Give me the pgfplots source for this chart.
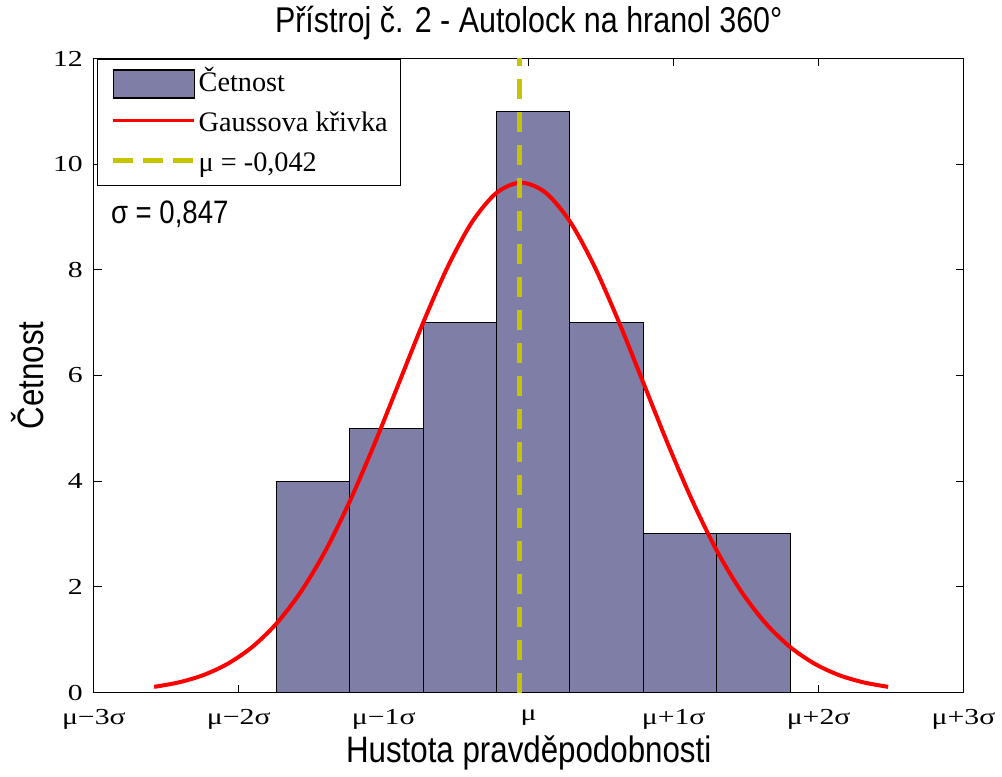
\documentclass[border=0pt]{standalone}
\usepackage{pgfplots}
\pgfplotsset{compat=1.18}
\usepackage{fontspec}
\setmainfont{Liberation Serif}
\newfontfamily\labfont[FakeStretch=0.85]{Liberation Sans}
\newfontfamily\tickfont[FakeStretch=1.3]{Liberation Serif}
\definecolor{barcol}{RGB}{126,126,166}
\definecolor{mucol}{RGB}{196,196,0}
\definecolor{gaussred}{RGB}{255,0,0}

\begin{document}
\begin{tikzpicture}
\begin{axis}[
  name=ax,
  scale only axis,
  width=435.5bp, height=317.5bp,
  xmin=-3, xmax=3, ymin=0, ymax=12,
  axis line style={line width=0.5bp},
  every tick/.style={black, line width=0.5bp},
  major tick length=4bp,
  xtick={-3,-2,-1,0,1,2,3},
  xticklabels={μ−3σ,μ−2σ,μ−1σ,μ,μ+1σ,μ+2σ,μ+3σ},
  ytick={0,2,4,6,8,10,12},
  /pgf/number format/assume math mode=true,
  tick label style={font=\tickfont\fontsize{11.5}{13}\selectfont},
  xticklabel style={yshift=-5bp},
  yticklabel style={xshift=-2bp},
  every axis title shift=0pt,
  title={Přístroj č. 2 - Autolock na hranol 360°},
  title style={font=\labfont\fontsize{18}{20}\selectfont,
    at={(axis description cs:0.5,1.0551)}, anchor=center},
  xlabel={Hustota pravděpodobnosti},
  xlabel style={font=\labfont\fontsize{18.5}{21}\selectfont,
    at={(axis description cs:0.5,-0.0945)}, anchor=center},
  ylabel={Četnost},
  ylabel style={font=\labfont\fontsize{18.5}{21}\selectfont,
    at={(axis description cs:-0.0758,0.5)}, anchor=center},
  legend style={at={(rel axis cs:0.004,0.999)}, anchor=north west,
    draw=black, line width=0.5bp, fill=white,
    font=\fontsize{14.2}{16}\selectfont,
    nodes={inner sep=0pt, text height=12.5bp, text depth=3.5bp},
    column sep=1bp, row sep=4bp, inner xsep=6.5bp, inner ysep=3.25bp},
  legend cell align=left,
]
% histogram (bin edges in sigma units)
\addplot[ybar interval, fill=barcol, draw=black, line width=0.5bp,
  legend image code/.code={\draw[fill=barcol,draw=black,line width=0.6bp] (0bp,-8bp) rectangle (40.5bp,6bp);}]
  coordinates {(-1.742,4) (-1.235,5) (-0.729,7) (-0.222,11) (0.284,7) (0.791,3) (1.298,3) (1.804,3)};
\addlegendentry{Četnost}
% Gaussian curve
\addplot[gaussred, line width=2bp, smooth,
  legend image code/.code={\draw[gaussred,line width=1.5bp] (0bp,1bp) -- (40.5bp,1bp);}]
  coordinates {
  (-2.584,0.107) (-2.415,0.191) (-2.246,0.328) (-2.078,0.542) (-1.909,0.858)
  (-1.740,1.306) (-1.571,1.910) (-1.402,2.683) (-1.234,3.622) (-1.065,4.698)
  (-0.896,5.853) (-0.727,7.007) (-0.558,8.061) (-0.390,8.908) (-0.221,9.459)
  (-0.052,9.650) (0.117,9.459) (0.286,8.908) (0.454,8.061) (0.623,7.007)
  (0.792,5.853) (0.961,4.698) (1.130,3.622) (1.298,2.683) (1.467,1.910)
  (1.636,1.306) (1.805,0.858) (1.974,0.542) (2.142,0.328) (2.311,0.191)
  (2.480,0.107)};
\addlegendentry{Gaussova křivka}
% mean line
\addplot[mucol, line width=2.5bp, dash pattern=on 10bp off 6.5bp,
  legend image code/.code={\draw[mucol,line width=2.5bp,dash pattern=on 10bp off 5bp] (0bp,1bp) -- (40.5bp,1bp);}]
  coordinates {(-0.062,0) (-0.062,12)};
\addlegendentry{μ = -0,042}
\node[anchor=west, font=\labfont\fontsize{16.3}{19}\selectfont]
  at (axis cs:-2.93,9.05) {σ = 0,847};
\end{axis}
\path ([xshift=-47bp,yshift=-41bp]ax.south west) rectangle ([xshift=18.5bp,yshift=28.5bp]ax.north east);
\end{tikzpicture}
\end{document}
